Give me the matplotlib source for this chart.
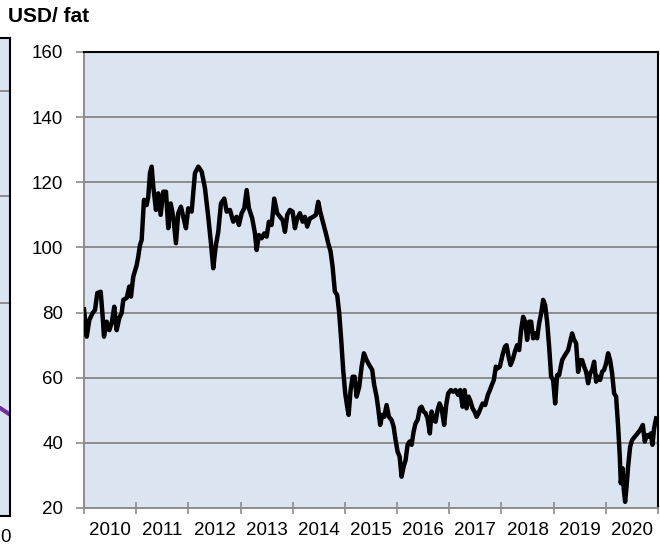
import matplotlib.pyplot as plt
import numpy as np

plt.rcParams['font.family'] = ['Liberation Sans', 'DejaVu Sans']

# Brent olajár, USD/fat (időpont: 2010 óta eltelt évek)
t = [0.000, 0.052, 0.102, 0.167, 0.211, 0.255, 0.320, 0.358, 0.383, 0.435,
     0.485, 0.531, 0.580, 0.626, 0.676, 0.722, 0.753, 0.818, 0.868, 0.900,
     0.944, 1.010, 1.040, 1.073, 1.105, 1.149, 1.201, 1.232, 1.264, 1.297,
     1.328, 1.379, 1.423, 1.469, 1.519, 1.571, 1.615, 1.661, 1.711, 1.762,
     1.806, 1.858, 1.902, 1.954, 1.998, 2.063, 2.126, 2.190, 2.255, 2.318,
     2.381, 2.433, 2.477, 2.523, 2.573, 2.625, 2.688, 2.734, 2.797, 2.860,
     2.925, 2.969, 3.021, 3.071, 3.117, 3.161, 3.224, 3.276, 3.308, 3.352,
     3.404, 3.454, 3.500, 3.544, 3.596, 3.646, 3.703, 3.755, 3.807, 3.851,
     3.895, 3.946, 3.998, 4.042, 4.086, 4.138, 4.190, 4.234, 4.278, 4.330,
     4.393, 4.444, 4.488, 4.534, 4.584, 4.636, 4.680, 4.726, 4.764, 4.808,
     4.852, 4.891, 4.929, 4.967, 5.006, 5.044, 5.071, 5.109, 5.148, 5.186,
     5.224, 5.274, 5.320, 5.364, 5.416, 5.466, 5.523, 5.561, 5.607, 5.638,
     5.676, 5.715, 5.753, 5.799, 5.843, 5.895, 5.933, 5.971, 6.010, 6.048,
     6.086, 6.125, 6.163, 6.201, 6.239, 6.278, 6.316, 6.354, 6.393, 6.437,
     6.469, 6.508, 6.546, 6.584, 6.628, 6.661, 6.699, 6.738, 6.776, 6.814,
     6.852, 6.902, 6.941, 6.979, 7.031, 7.075, 7.121, 7.170, 7.209, 7.255,
     7.293, 7.331, 7.370, 7.408, 7.446, 7.485, 7.523, 7.561, 7.600, 7.638,
     7.688, 7.739, 7.778, 7.816, 7.854, 7.893, 7.931, 7.969, 8.021, 8.065,
     8.098, 8.136, 8.174, 8.213, 8.257, 8.301, 8.339, 8.377, 8.416, 8.454,
     8.492, 8.531, 8.569, 8.607, 8.646, 8.684, 8.722, 8.761, 8.799, 8.837,
     8.875, 8.914, 8.952, 8.990, 9.029, 9.067, 9.105, 9.163, 9.201, 9.240,
     9.278, 9.316, 9.354, 9.393, 9.431, 9.469, 9.508, 9.546, 9.584, 9.623,
     9.661, 9.699, 9.738, 9.776, 9.814, 9.852, 9.891, 9.929, 9.967, 10.006,
     10.044, 10.082, 10.121, 10.159, 10.197, 10.236, 10.268, 10.287, 10.320, 10.345,
     10.370, 10.397, 10.427, 10.466, 10.504, 10.556, 10.607, 10.657, 10.709, 10.747,
     10.785, 10.824, 10.862, 10.894, 10.925, 10.964]
price = [81.0, 72.6, 77.7, 79.9, 80.8, 86.0, 86.4, 78.7, 72.6, 77.2,
         74.6, 76.8, 81.8, 74.6, 78.3, 79.9, 83.9, 84.5, 88.0, 84.9,
         91.0, 94.6, 97.2, 100.7, 102.3, 114.6, 113.0, 115.6, 122.8, 124.8,
         118.6, 111.5, 116.6, 110.0, 117.1, 117.1, 105.9, 113.5, 109.4, 101.3,
         110.5, 112.5, 109.4, 105.9, 112.0, 111.0, 122.8, 124.8, 123.3, 118.2,
         109.4, 101.3, 93.6, 100.2, 104.8, 113.5, 115.0, 111.0, 111.5, 107.9,
         109.4, 106.9, 110.5, 112.0, 117.6, 112.0, 108.9, 104.3, 99.2, 103.8,
         102.8, 104.3, 103.3, 107.9, 106.9, 115.0, 110.5, 109.4, 108.4, 104.8,
         110.0, 111.5, 111.0, 105.9, 108.9, 110.5, 107.9, 109.4, 106.4, 108.9,
         109.4, 110.0, 114.0, 110.5, 107.4, 104.3, 101.3, 98.7, 94.1, 86.4,
         85.4, 79.8, 71.6, 62.4, 55.2, 51.1, 48.6, 56.2, 60.3, 60.3,
         54.2, 57.2, 63.4, 67.5, 65.4, 63.9, 62.4, 57.8, 54.2, 50.6,
         45.5, 48.6, 48.0, 51.6, 48.0, 47.0, 45.0, 40.9, 37.3, 35.8,
         29.6, 32.7, 34.7, 39.4, 40.4, 39.4, 43.4, 46.0, 47.0, 50.6,
         51.1, 49.6, 49.1, 47.5, 42.9, 49.6, 47.0, 46.5, 50.1, 52.1,
         50.6, 45.5, 51.6, 55.2, 56.2, 55.7, 56.2, 54.7, 56.2, 51.1,
         56.2, 50.6, 54.2, 52.7, 50.6, 49.6, 48.0, 49.1, 50.6, 52.1,
         51.6, 54.7, 56.2, 57.8, 59.3, 63.4, 62.9, 63.4, 67.0, 69.5,
         70.0, 66.5, 63.9, 65.4, 68.0, 70.0, 68.5, 74.7, 78.7, 77.2,
         71.6, 77.2, 77.2, 72.1, 73.6, 72.1, 76.7, 79.8, 83.9, 82.3,
         77.2, 69.5, 60.3, 59.3, 52.1, 60.8, 60.8, 65.4, 66.5, 67.5,
         68.5, 71.1, 73.6, 71.6, 70.6, 61.8, 65.4, 65.4, 63.4, 61.8,
         58.3, 61.3, 62.4, 64.9, 58.8, 60.3, 59.3, 61.8, 62.4, 64.4,
         67.5, 65.4, 61.3, 55.2, 54.2, 45.0, 35.8, 27.6, 32.2, 25.5,
         21.9, 26.5, 32.7, 38.8, 40.9, 41.9, 42.9, 43.9, 45.5, 40.4,
         42.4, 41.9, 42.9, 39.4, 44.4, 47.5]

years = list(range(2010, 2021))
yticks = [20, 40, 60, 80, 100, 120, 140, 160]

bg = '#dbe5f1'
grid_c = '#8c8c8c'

fig = plt.figure(figsize=(6.6, 5.45), dpi=100)

# a szomszédos diagram levágott széle
axl = fig.add_axes([-0.2, (545 - 516) / 545, 0.2 + 10 / 660, 478 / 545])
axl.set_facecolor(bg)
axl.set_xlim(0, 1)
axl.set_ylim(0, 1)
for g in [0.111, 0.33, 0.554]:
    axl.axhline(1 - g, color=grid_c, lw=1.4)
axl.plot([0.85, 0.93, 1.0], [0.222, 0.226, 0.212], color='#7030a0', lw=3)
axl.set_xticks([])
axl.set_yticks([])
for s in axl.spines.values():
    s.set_color('black')
    s.set_linewidth(1.5)
fig.text(11 / 660, 1 - 537 / 545, '0', ha='right', va='center', fontsize=13.5)

# fő diagram
ax = fig.add_axes([84 / 660, 37 / 545, 574 / 660, 456 / 545])
ax.set_facecolor(bg)
x = np.array(t) + 2010
ax.plot(x, price, color='black', lw=3.2, solid_joinstyle='round', zorder=3)

ax.set_xlim(2010, 2021)
ax.set_ylim(20, 160)
ax.set_yticks(yticks)
ax.yaxis.grid(True, color=grid_c, lw=1.4)
ax.set_axisbelow(True)

ax.set_xticks(years + [2021])
ax.set_xticklabels([])
ax.set_xticks([y + 0.5 for y in years], minor=True)
ax.set_xticklabels([str(y) for y in years], minor=True)
ax.tick_params(axis='x', which='major', direction='inout', length=8, color=grid_c, width=1.2)
ax.tick_params(axis='x', which='minor', length=0, pad=10, labelsize=13.5)
ax.tick_params(axis='y', direction='out', length=6, color=grid_c, width=1.2, pad=9, labelsize=13.5)

ax.spines['left'].set_color(grid_c)
ax.spines['bottom'].set_color(grid_c)
ax.spines['left'].set_linewidth(1.4)
ax.spines['bottom'].set_linewidth(1.4)
ax.spines['top'].set_color('black')
ax.spines['right'].set_color('black')
ax.spines['top'].set_linewidth(1.5)
ax.spines['right'].set_linewidth(1.5)

fig.text(8 / 660, 1 - 17 / 545, 'USD/ fat', ha='left', va='center',
         fontsize=15, fontweight='bold')

fig.savefig('out.png', dpi=100)
